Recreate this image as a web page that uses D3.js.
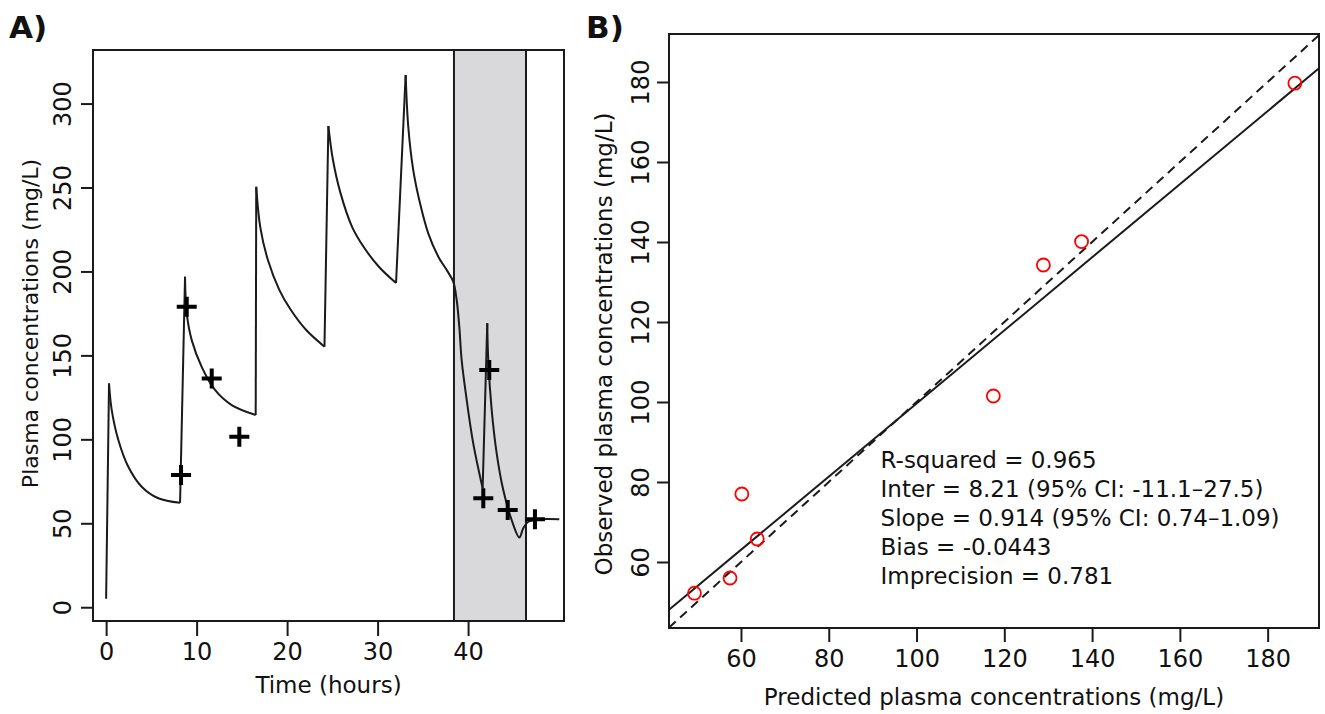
<!DOCTYPE html>
<html>
<head>
<meta charset="utf-8">
<script src="https://cdn.jsdelivr.net/npm/d3@7"></script>
<style>
  body { margin: 0; background: #fff; }
  text { font-family: "DejaVu Sans", sans-serif; fill: #111; }
</style>
</head>
<body>
<svg id="chart" width="1325" height="714"></svg>
<script>
// Panel A: simulated profile (hours, mg/L)
const simTime = [0, 0.32, 0.62, 1.35, 2.45, 3.93, 5.77, 8.17,
  8.72, 8.91, 9.46, 10.56, 12.03, 13.88, 16.53,
  16.59, 17.03, 17.88, 19.15, 20.42, 22.11, 24.13,
  24.56, 25.07, 25.91, 27.18, 28.45, 30.14, 32.04,
  33.1, 33.39, 33.94, 34.69, 35.6, 36.71, 37.64, 38.36,
  38.74, 39.03, 39.29, 39.85, 40.57, 41.61,
  42.12, 42.23, 42.61, 43.16, 43.89, 44.82, 45.66,
  46.1, 46.65, 47.94, 50.08];
const simConc = [5, 133.3, 117.4, 99.6, 83.7, 71.8, 64.9, 62.2,
  196.8, 175.0, 159.1, 143.2, 129.4, 120.4, 114.5,
  250.4, 226.6, 206.8, 188.9, 177.0, 165.1, 155.2,
  286.6, 266.4, 246.5, 226.6, 214.7, 202.8, 193.1,
  317.0, 286.2, 260.4, 240.6, 222.7, 208.8, 200.8, 193.9,
  183.0, 167.1, 147.2, 123.4, 97.6, 70.8,
  169.1, 147.2, 117.4, 91.7, 69.8, 51.9, 41.6,
  47.0, 50.9, 52.4, 52.4];

// Panel A: measured samples
const obsTime = [8.28, 8.91, 11.67, 14.72, 41.68, 42.34, 44.38, 47.39];
const obsConc = [78.7, 179.0, 136.3, 101.5, 64.9, 141.3, 57.9, 52.4];

const shadeWindow = [38.44, 46.4];
const aTicksX = [0, 10, 20, 30, 40];
const aTicksY = [0, 50, 100, 150, 200, 250, 300];

// Panel B: predicted vs observed
const predicted = [49.4, 57.5, 60.2, 63.7, 117.5, 128.9, 137.6, 186.2];
const observed  = [52.2, 56.0, 77.0, 65.75, 101.5, 134.25, 140.1, 179.7];
const fitIntercept = 8.21,
      fitSlope     = 0.914;
const bTicks = [60, 80, 100, 120, 140, 160, 180];
const statLines = [
  "R-squared = 0.965",
  "Inter = 8.21 (95% CI: -11.1\u201327.5)",
  "Slope = 0.914 (95% CI: 0.74\u20131.09)",
  "Bias = -0.0443",
  "Imprecision = 0.781"
];

const svg = d3.select("#chart");
const ink = "#1a1a1a";

function styleAxis(g, rotateY, labelOffset) {
  g.select(".domain").remove();
  g.selectAll(".tick line").attr("stroke", ink).attr("stroke-width", 2);
  g.selectAll(".tick text").style("font-size", "24px").attr("fill", "#111");
  if (rotateY) {
    g.selectAll(".tick text")
      .attr("transform", "rotate(-90)")
      .attr("x", 0).attr("y", -labelOffset).attr("dy", "0.36em")
      .attr("text-anchor", "middle");
  }
}

/////////////////////
//     Panel A     //
/////////////////////
let aBox = {left: 93, right: 564, top: 50, bottom: 621},
  xA = d3.scaleLinear().domain([-1.45, 50.6]).range([aBox.left, aBox.right]),
  yA = d3.scaleLinear().domain([-8.2, 331.9]).range([aBox.bottom, aBox.top]);

let pA = svg.append("g");

pA.append("rect")
  .attr("x", xA(shadeWindow[0])).attr("y", aBox.top)
  .attr("width", xA(shadeWindow[1]) - xA(shadeWindow[0]))
  .attr("height", aBox.bottom - aBox.top)
  .attr("fill", "#d9d9db");

pA.selectAll("line.shade")
  .data(shadeWindow)
  .enter().append("line")
  .attr("class", "shade")
  .attr("x1", d => xA(d)).attr("x2", d => xA(d))
  .attr("y1", aBox.top).attr("y2", aBox.bottom)
  .attr("stroke", ink).attr("stroke-width", 2);

// Split profile into dose rises (straight) and decay phases (smooth)
let simPoints = simTime.map((t, i) => [t, simConc[i]]),
  pieces = [],
  current = [simPoints[0]];

for (let i = 1; i < simPoints.length; i++) {
  let prev = simPoints[i - 1], p = simPoints[i],
    isRise = (p[1] - prev[1]) / (p[0] - prev[0]) > 50;
  if (isRise) {
    if (current.length > 1) pieces.push({rise: false, pts: current});
    pieces.push({rise: true, pts: [prev, p]});
    current = [p];
  } else {
    current.push(p);
  }
}
if (current.length > 1) pieces.push({rise: false, pts: current});

let riseLine = d3.line().x(d => xA(d[0])).y(d => yA(d[1])),
  decayLine = d3.line().x(d => xA(d[0])).y(d => yA(d[1])).curve(d3.curveCatmullRom.alpha(0.5));

pA.selectAll("path.sim")
  .data(pieces)
  .enter().append("path")
  .attr("class", "sim")
  .attr("d", d => d.rise ? riseLine(d.pts) : decayLine(d.pts))
  .attr("fill", "none")
  .attr("stroke", ink)
  .attr("stroke-width", 2)
  .attr("stroke-linejoin", "round");

pA.selectAll("path.obs")
  .data(obsConc)
  .enter().append("path")
  .attr("class", "obs")
  .attr("transform", (d, i) => "translate(" + xA(obsTime[i]) + "," + yA(d) + ")")
  .attr("d", "M-10,0H10M0,-10V10")
  .attr("stroke", "#000")
  .attr("stroke-width", 4);

pA.append("rect")
  .attr("x", aBox.left).attr("y", aBox.top)
  .attr("width", aBox.right - aBox.left).attr("height", aBox.bottom - aBox.top)
  .attr("fill", "none").attr("stroke", ink).attr("stroke-width", 2);

pA.append("g")
  .attr("transform", "translate(0," + aBox.bottom + ")")
  .call(d3.axisBottom(xA).tickValues(aTicksX).tickSize(15).tickPadding(7))
  .call(g => styleAxis(g, false));

pA.append("g")
  .attr("transform", "translate(" + aBox.left + ",0)")
  .call(d3.axisLeft(yA).tickValues(aTicksY).tickSize(12))
  .call(g => styleAxis(g, true, 31));

pA.append("text")
  .attr("x", (aBox.left + aBox.right) / 2).attr("y", 693)
  .attr("text-anchor", "middle")
  .style("font-size", "23px")
  .text("Time (hours)");

pA.append("text")
  .attr("transform", "translate(30," + ((aBox.top + aBox.bottom) / 2 - 12) + ") rotate(-90)")
  .attr("text-anchor", "middle").attr("dy", "0.36em")
  .style("font-size", "22px")
  .text("Plasma concentrations (mg/L)");

svg.append("text")
  .attr("x", 9).attr("y", 38)
  .style("font-size", "31px").style("font-weight", "bold")
  .text("A)");

/////////////////////
//     Panel B     //
/////////////////////
let bBox = {left: 669, right: 1319, top: 34, bottom: 628},
  xB = d3.scaleLinear().domain([43.6, 191.7]).range([bBox.left, bBox.right]),
  yB = d3.scaleLinear().domain([43.5, 192]).range([bBox.bottom, bBox.top]);

let pB = svg.append("g");

svg.append("clipPath").attr("id", "clipB")
  .append("rect")
  .attr("x", bBox.left).attr("y", bBox.top)
  .attr("width", bBox.right - bBox.left).attr("height", bBox.bottom - bBox.top);

let lineEnds = xB.domain();

// identity line
pB.append("line")
  .attr("clip-path", "url(#clipB)")
  .attr("x1", xB(lineEnds[0])).attr("y1", yB(lineEnds[0]))
  .attr("x2", xB(lineEnds[1])).attr("y2", yB(lineEnds[1]))
  .attr("stroke", ink).attr("stroke-width", 2)
  .attr("stroke-dasharray", "9,6");

// regression line
pB.append("line")
  .attr("clip-path", "url(#clipB)")
  .attr("x1", xB(lineEnds[0])).attr("y1", yB(fitIntercept + fitSlope * lineEnds[0]))
  .attr("x2", xB(lineEnds[1])).attr("y2", yB(fitIntercept + fitSlope * lineEnds[1]))
  .attr("stroke", ink).attr("stroke-width", 2);

pB.selectAll("circle")
  .data(observed)
  .enter().append("circle")
  .attr("cx", (d, i) => xB(predicted[i]))
  .attr("cy", d => yB(d))
  .attr("r", 6.5)
  .attr("fill", "none")
  .attr("stroke", "#f00")
  .attr("stroke-width", 1.8);

pB.append("rect")
  .attr("x", bBox.left).attr("y", bBox.top)
  .attr("width", bBox.right - bBox.left).attr("height", bBox.bottom - bBox.top)
  .attr("fill", "none").attr("stroke", ink).attr("stroke-width", 2);

pB.append("g")
  .attr("transform", "translate(0," + bBox.bottom + ")")
  .call(d3.axisBottom(xB).tickValues(bTicks).tickSize(14).tickPadding(8))
  .call(g => styleAxis(g, false));

pB.append("g")
  .attr("transform", "translate(" + bBox.left + ",0)")
  .call(d3.axisLeft(yB).tickValues(bTicks).tickSize(12))
  .call(g => styleAxis(g, true, 29));

pB.selectAll("text.stat")
  .data(statLines)
  .enter().append("text")
  .attr("class", "stat")
  .attr("x", xB(91.8))
  .attr("y", (d, i) => yB(85.5) + i * 29)
  .attr("dy", "0.36em")
  .style("font-size", "23px")
  .text(d => d);

pB.append("text")
  .attr("x", (bBox.left + bBox.right) / 2).attr("y", 705)
  .attr("text-anchor", "middle")
  .style("font-size", "23px")
  .text("Predicted plasma concentrations (mg/L)");

pB.append("text")
  .attr("transform", "translate(604," + ((bBox.top + bBox.bottom) / 2 + 13) + ") rotate(-90)")
  .attr("text-anchor", "middle").attr("dy", "0.36em")
  .style("font-size", "23px")
  .text("Observed plasma concentrations (mg/L)");

svg.append("text")
  .attr("x", 586).attr("y", 38)
  .style("font-size", "31px").style("font-weight", "bold")
  .text("B)");
</script>
</body>
</html>
